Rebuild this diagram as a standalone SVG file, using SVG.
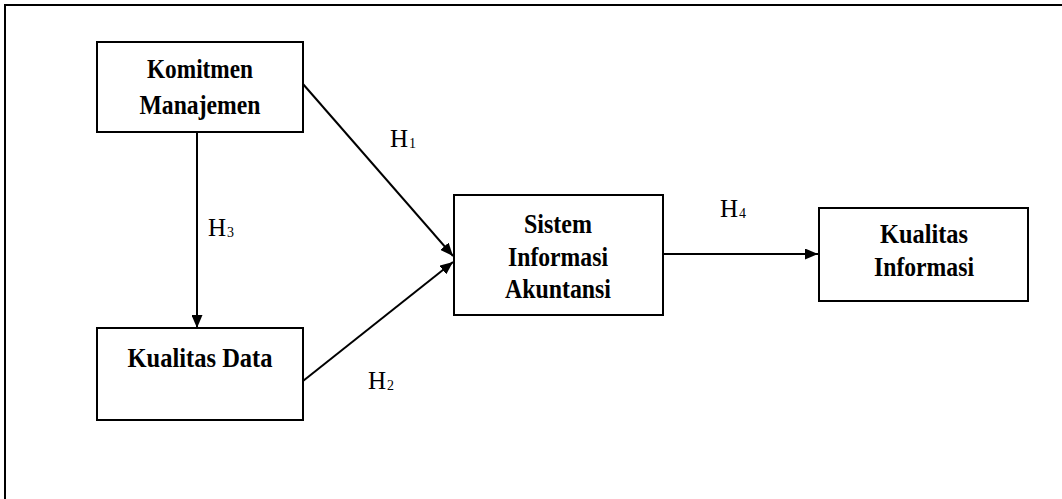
<svg xmlns="http://www.w3.org/2000/svg" width="1062" height="499" viewBox="0 0 1062 499">
<style>
.box{fill:#fff;stroke:#000;stroke-width:2}
.frame{fill:none;stroke:#000;stroke-width:2}
.conn{fill:none;stroke:#000;stroke-width:2}
.t{font-family:"Liberation Serif","Times New Roman",serif;font-weight:bold;font-size:28px;fill:#000;text-anchor:middle}
.h{font-family:"Liberation Serif","Times New Roman",serif;font-size:25px;fill:#000}
.sub{font-family:"Liberation Serif","Times New Roman",serif;font-size:14px;fill:#000}
</style>
<defs>
<marker id="arr" viewBox="0 0 13 11" refX="13" refY="5.5" markerWidth="13" markerHeight="11" markerUnits="userSpaceOnUse" orient="auto">
<path d="M0,0 L13,5.5 L0,11 Z" fill="#000"/>
</marker>
</defs>
<rect width="1062" height="499" fill="#fff"/>
<path class="frame" d="M5,499 V5 H1062"/>
<g id="connectors">
<line class="conn" x1="197" y1="132" x2="197" y2="328" marker-end="url(#arr)"/>
<line class="conn" x1="303" y1="84" x2="453" y2="256" marker-end="url(#arr)"/>
<line class="conn" x1="303" y1="381" x2="453" y2="262" marker-end="url(#arr)"/>
<line class="conn" x1="663" y1="254" x2="818" y2="254" marker-end="url(#arr)"/>
<text class="h" x="390" y="147">H</text><text class="sub" x="409" y="148">1</text>
<text class="h" x="368" y="389">H</text><text class="sub" x="387" y="390">2</text>
<text class="h" x="208" y="236">H</text><text class="sub" x="227" y="237">3</text>
<text class="h" x="720" y="217">H</text><text class="sub" x="739" y="218">4</text>
</g>
<g id="komitmen">
<rect class="box" x="97" y="42" width="206" height="90"/>
<text class="t" x="200" y="78" textLength="106" lengthAdjust="spacingAndGlyphs">Komitmen</text>
<text class="t" x="200" y="114" textLength="121" lengthAdjust="spacingAndGlyphs">Manajemen</text>
</g>
<g id="kualitas-data">
<rect class="box" x="97" y="328" width="206" height="92"/>
<text class="t" x="200" y="367" textLength="145" lengthAdjust="spacingAndGlyphs">Kualitas Data</text>
</g>
<g id="sia">
<rect class="box" x="454" y="195" width="209" height="120"/>
<text class="t" x="558" y="233" textLength="68" lengthAdjust="spacingAndGlyphs">Sistem</text>
<text class="t" x="558" y="266" textLength="100" lengthAdjust="spacingAndGlyphs">Informasi</text>
<text class="t" x="558" y="298" textLength="106" lengthAdjust="spacingAndGlyphs">Akuntansi</text>
</g>
<g id="kualitas-informasi">
<rect class="box" x="819" y="208" width="209" height="93"/>
<text class="t" x="924" y="243" textLength="88" lengthAdjust="spacingAndGlyphs">Kualitas</text>
<text class="t" x="924" y="276" textLength="100" lengthAdjust="spacingAndGlyphs">Informasi</text>
</g>
</svg>
